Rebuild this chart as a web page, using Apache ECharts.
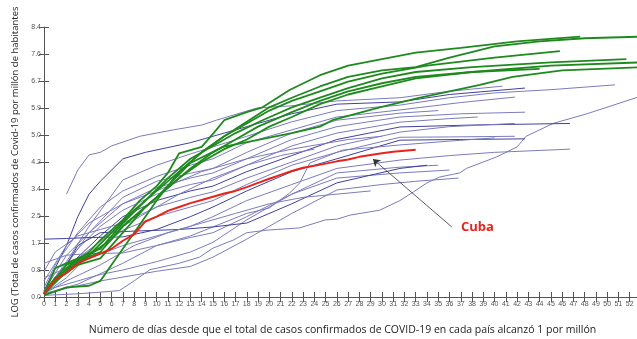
<!DOCTYPE html>
<html>
<head>
<meta charset="utf-8">
<script src="https://cdn.jsdelivr.net/npm/echarts@6/dist/echarts.min.js"></script>
<style>
  html, body { margin: 0; padding: 0; background: #fff; }
  #chart { width: 637px; height: 339px; }
</style>
</head>
<body>
<div id="chart"></div>
<script>
// ejes
const dayMax = 53;
const yTicks = [0.0, 0.84, 1.68, 2.52, 3.36, 4.2, 5.04, 5.88, 6.72, 7.56, 8.4];

// Cuba
const cuba = [[0,0.1],[1,0.55],[2,0.75],[3,1.05],[4,1.2],[5,1.35],[6,1.5],[7,1.75],[8,1.95],[9,2.35],[10,2.5],[11,2.68],[12,2.8],[13,2.92],[14,3.02],[15,3.12],[16,3.22],[17,3.3],[18,3.42],[19,3.55],[20,3.68],[21,3.8],[22,3.92],[23,4.02],[24,4.08],[25,4.15],[26,4.22],[27,4.28],[28,4.36],[29,4.42],[30,4.47],[31,4.52],[32,4.55],[33,4.58]];
// flecha Cuba: [cola, punta]
const cubaArrow = [[36.2, 2.18], [29.2, 4.29]];

// países en verde
const g1 = [[0,0.1],[2,0.9],[4,1.4],[5,1.77],[7,2.4],[8.5,3.0],[10,3.45],[11,3.86],[12,4.47],[14,4.67],[15.3,5.2],[16,5.5],[18,5.75],[19.4,5.9],[21.8,6.44],[24.5,6.9],[27,7.2],[30,7.4],[33,7.6],[37,7.75],[42,7.95],[47.6,8.1]];
const g2 = [[0,0.1],[2,1.0],[4,1.3],[6,2.0],[8,2.7],[10,3.3],[12,3.9],[14,4.5],[16,5.0],[18,5.45],[20,5.9],[22,6.2],[24.5,6.55],[27,6.85],[30,7.05],[33,7.15],[36,7.45],[40,7.8],[44,7.95],[48,8.05],[53,8.1]];
const g3 = [[0,0.05],[2,0.3],[4,0.35],[5,0.5],[6,1.0],[8,2.0],[10,3.0],[12,3.9],[14,4.5],[16,5.0],[18,5.4],[20,5.8],[22,6.1],[24.5,6.4],[27,6.7],[30,6.95],[34,7.2],[40,7.45],[45.8,7.65]];
const g4 = [[0,0.1],[1,0.9],[3,1.2],[5,1.5],[7,2.3],[9,3.0],[11,3.7],[13,4.3],[15,4.7],[17,5.1],[19.4,5.5],[22,5.9],[24.5,6.2],[27,6.5],[30,6.8],[33,7.0],[38,7.15],[45,7.3],[51.7,7.4]];
const g5 = [[0,0.15],[1,0.6],[3,1.1],[5,1.4],[7,2.2],[10,3.1],[12,3.7],[14,4.2],[16,4.6],[18,4.9],[20,5.3],[22,5.6],[24.5,6.0],[27,6.3],[30,6.55],[33,6.8],[38,7.0],[45,7.2],[53,7.3]];
const g6 = [[0,0.1],[2,0.8],[4,1.3],[6,1.8],[7,2.2],[10,3.1],[13,4.17],[15.9,4.67],[18.9,4.88],[22,5.1],[24.5,5.3],[25.6,5.5],[29.8,5.9],[33.4,6.2],[38.7,6.6],[41.6,6.85],[46,7.05],[53,7.15]];
const g7 = [[0,0.1],[1,0.5],[3,1.0],[5,1.2],[7,2.0],[9,2.8],[11,3.4],[13,4.0],[15,4.5],[17,4.9],[19,5.3],[22,5.75],[24.5,6.1],[27,6.4],[30,6.65],[33,6.85],[38,7.0],[44,7.1]];

// resto de países
const b1 = [[2,3.2],[3,3.95],[4,4.42],[5,4.5],[6,4.7],[8.5,5.0],[11.5,5.2],[14,5.35],[15.3,5.5],[18.9,5.88],[22,5.95],[26,6.1],[31.6,6.2],[36,6.4],[40.7,6.56]];
const b2 = [[0,0.2],[1,0.9],[2,1.6],[3,2.5],[4,3.2],[5,3.6],[7,4.3],[9,4.5],[11,4.65],[13,4.8],[15,5.0],[18,5.3],[22,5.7],[26,6.0],[31.6,6.07],[36,6.3],[42.7,6.5]];
const b3 = [[0,0.15],[2,1.1],[4,2.2],[7,3.64],[10,4.1],[13,4.45],[15,4.67],[18,5.0],[22,5.45],[26,5.8],[31.6,5.97],[36,6.2],[40,6.35],[45,6.45],[50.7,6.6]];
const b4 = [[0,0.05],[3,0.1],[5,0.15],[6.7,0.2],[8,0.5],[9.4,0.85],[12,1.05],[13.8,1.24],[15,1.52],[16.8,1.77],[18,2.0],[19.8,2.08],[22.7,2.15],[25,2.4],[26,2.42],[27.2,2.55],[29.8,2.7],[31.6,3.0],[32.8,3.27],[34,3.55],[35.1,3.73],[36.9,3.86],[37.5,4.0],[39,4.2],[40.2,4.36],[42,4.67],[42.8,5.0],[45.2,5.4],[48.2,5.7],[53,6.25]];
const b5 = [[0,0.3],[1,1.0],[3,2.0],[5,2.8],[7,3.3],[10,3.75],[13,4.1],[15,4.3],[18,4.8],[22,5.2],[26,5.6],[31.6,5.82],[37,6.05],[41.8,6.22]];
const b6 = [[0,0.1],[2,1.0],[4,2.0],[7,3.1],[10,3.6],[13,3.85],[15,4.0],[18,4.5],[22,5.1],[26,5.5],[31.6,5.72],[35,5.8]];
const b7 = [[0,0.2],[2,1.3],[4,2.0],[7,2.9],[10,3.4],[13,3.7],[15,3.86],[18,4.3],[22,4.9],[26,5.3],[31.6,5.6],[37,5.7],[42.7,5.75]];
const b8 = [[0,0.15],[3,1.5],[5,2.2],[7,2.7],[10,3.2],[13,3.5],[15,3.64],[18,4.1],[22,4.7],[26,5.1],[31.6,5.44],[36,5.55],[38.5,5.6]];
const b9 = [[0,0.1],[2,0.9],[5,1.9],[7,2.5],[10,3.0],[13,3.3],[15,3.45],[18,3.9],[22,4.4],[26,4.9],[31.6,5.29],[38,5.35],[46.7,5.4]];
const b10 = [[0,0.8],[1,1.4],[3,1.9],[5,2.1],[7,2.3],[10,2.8],[13,3.1],[15,3.27],[18,3.7],[22,4.2],[26,4.7],[31.6,5.13],[36,5.3],[41.8,5.4]];
const b11 = [[0,0.1],[2,0.6],[4,1.3],[7,2.08],[10,2.5],[13,2.8],[15,3.0],[18,3.5],[22,4.1],[26,4.5],[31.6,4.97],[36,4.98],[41.8,5.0]];
const b12 = [[0,1.8],[2,1.82],[4,1.85],[7,1.87],[10,2.1],[13,2.5],[15,2.8],[18,3.3],[22,3.9],[26,4.3],[31.6,4.88],[37,4.9],[42.7,4.92]];
const b13 = [[0,0.1],[3,0.4],[7,1.05],[10,1.6],[13,1.9],[15,2.18],[18,2.6],[20,2.77],[21.8,3.23],[22.7,3.55],[23.6,4.17],[26.5,4.57],[31.6,4.73],[36,4.85],[40,4.95]];
const b14 = [[0,0.6],[2,0.9],[4,1.2],[7,1.6],[10,1.9],[13,2.2],[15,2.5],[18,3.0],[22,3.5],[26,4.0],[31.6,4.26],[36,4.4],[40,4.5],[46.7,4.6]];
const b15 = [[0,1.05],[2,1.3],[4,1.35],[7,1.37],[10,1.6],[13,1.85],[15,2.0],[18,2.5],[22,3.2],[26,3.86],[31.6,4.04],[35,4.1]];
const b16 = [[0,0.2],[3,0.5],[5,0.7],[7,0.84],[10,1.1],[13,1.4],[15,1.7],[18,2.4],[22,3.2],[26,3.7],[31.6,3.86],[36,3.95]];
const b17 = [[0,0.1],[3,0.35],[5,0.5],[7,0.62],[10,0.8],[13,0.95],[15,1.24],[18,1.8],[22,2.6],[26,3.33],[30,3.5],[33,3.6],[36.8,3.7]];
const b18 = [[0,0.1],[2,1.0],[3,1.6],[5,2.0],[8,2.05],[12,2.1],[15,2.18],[18,2.3],[22,2.9],[26,3.55],[31.6,4.0],[34,4.1]];
const b19 = [[0,0.2],[3,1.2],[6,2.0],[9,2.6],[12,3.2],[15,3.7],[18,4.1],[21,4.4],[24,4.6]];
const b20 = [[0,0.5],[2,1.6],[4,2.3],[7,2.9],[10,3.3],[14,3.9],[18,4.3],[22,4.6],[27,4.9],[30,5.0]];
const b21 = [[0,0.1],[2,0.5],[5,1.0],[8,1.6],[11,2.0],[14,2.3],[17,2.6],[20,2.9],[23,3.1],[26,3.2],[29,3.3]];

const greens = [g1, g2, g3, g4, g5, g6, g7];
const blues = [b1, b2, b3, b4, b5, b6, b7, b8, b9, b10, b11, b12, b13, b14, b15, b16, b17, b18, b19, b20, b21];
const darkBlues = [b2, b9, b12, b18];

const chart = echarts.init(document.getElementById('chart'));

const series = [];
blues.forEach(function (d, i) {
  series.push({
    name: 'b' + (i + 1),
    type: 'line',
    data: d,
    showSymbol: false,
    silent: true,
    lineStyle: { width: 1, color: darkBlues.indexOf(d) >= 0 ? '#40409a' : '#7b7bbd' },
    z: 2
  });
});
greens.forEach(function (d, i) {
  series.push({
    name: 'g' + (i + 1),
    type: 'line',
    data: d,
    showSymbol: false,
    silent: true,
    lineStyle: { width: 1.8, color: '#1e8a1e' },
    z: 3
  });
});
series.push({
  name: 'Cuba',
  type: 'line',
  data: cuba,
  showSymbol: false,
  silent: true,
  lineStyle: { width: 2, color: '#e8231c' },
  z: 4,
  markLine: {
    silent: true,
    symbol: ['none', 'arrow'],
    symbolSize: 7,
    label: { show: false },
    lineStyle: { color: '#333', width: 0.8, type: 'solid' },
    data: [[{ coord: cubaArrow[0] }, { coord: cubaArrow[1] }]]
  }
});

const tickFont = { fontFamily: 'Liberation Sans', fontSize: 7, color: '#555' };

const option = {
  animation: false,
  grid: { left: 44, right: -4, top: 27, bottom: 42, outerBoundsMode: 'none', containLabel: false },
  xAxis: [
    {
      type: 'value', min: 0, max: dayMax, interval: 1,
      axisLine: { lineStyle: { color: '#555' } },
      axisTick: { length: 5, lineStyle: { color: '#555' } },
      axisLabel: Object.assign({ margin: 4, showMaxLabel: true, hideOverlap: false }, tickFont),
      splitLine: { show: false },
      name: 'Número de días desde que el total de casos confirmados de COVID-19 en cada país alcanzó 1 por millón',
      nameLocation: 'middle',
      nameGap: 28,
      nameTextStyle: { fontFamily: 'Open Sans', fontSize: 10.5, color: '#222' }
    },
    {
      type: 'value', min: 0, max: dayMax, interval: 1, position: 'bottom',
      axisLine: { show: false },
      axisTick: { inside: true, length: 5, lineStyle: { color: '#555' } },
      axisLabel: { show: false },
      splitLine: { show: false }
    }
  ],
  yAxis: [
    {
      type: 'value', min: 0, max: 8.4, interval: 0.84,
      axisLine: { show: true, lineStyle: { color: '#555' } },
      axisTick: { show: true, length: 5, lineStyle: { color: '#555' } },
      axisLabel: Object.assign({ margin: 3, formatter: function (v) { return v.toFixed(1); } }, tickFont),
      splitLine: { show: false },
      name: 'LOG (Total de casos confirmados de Covid-19 por millón de habitantes',
      nameLocation: 'middle',
      nameRotate: 90,
      nameGap: 21,
      nameTextStyle: { fontFamily: 'Open Sans', fontSize: 9.5, color: '#222' }
    },
    {
      type: 'value', min: 0, max: 8.4, interval: 0.84, position: 'left',
      axisLine: { show: false },
      axisTick: { show: true, inside: true, length: 5, lineStyle: { color: '#555' } },
      axisLabel: { show: false },
      splitLine: { show: false }
    }
  ],
  graphic: [
    {
      type: 'text',
      left: 461,
      top: 221,
      style: {
        text: 'Cuba',
        fill: '#e8231c',
        font: 'bold 13px "Open Sans"'
      }
    }
  ],
  series: series
};
chart.setOption(option);
</script>
</body>
</html>
